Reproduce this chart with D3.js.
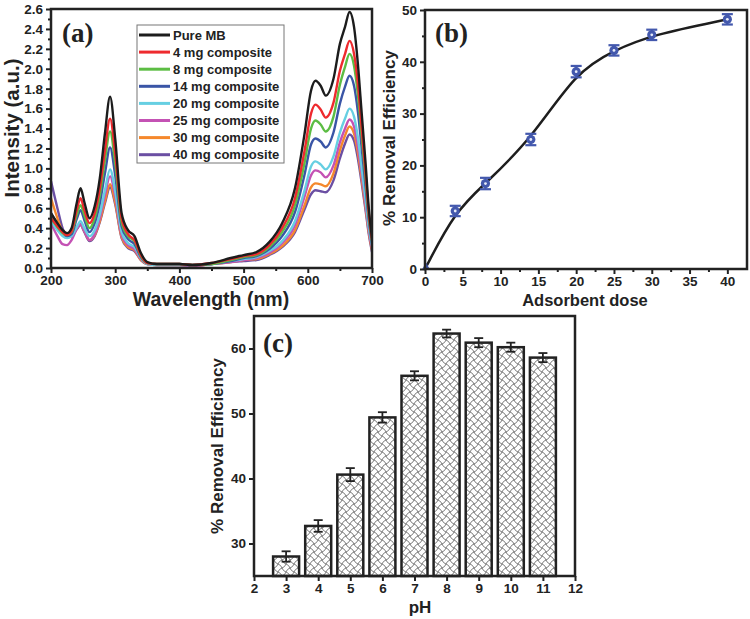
<!DOCTYPE html>
<html>
<head>
<meta charset="utf-8">
<script src="https://cdn.jsdelivr.net/npm/d3@7"></script>
<style>
  body { margin: 0; background: #fff; }
  text { font-family: 'Liberation Sans', Arial, sans-serif; font-weight: bold; fill: #222; }
  .panel-label { font-family: 'Liberation Serif', 'Times New Roman', serif; font-size: 27px; }
</style>
</head>
<body>
<div id="chart"></div>
<script>
// ---- data: panel (a) UV-vis spectra ----
const wavelengths = [200, 210, 218, 225, 232, 240, 246, 252, 260, 268, 276, 284, 292, 300, 310, 320, 330, 340, 350, 365, 400, 420, 450, 480, 500, 520, 540, 560, 580, 595, 605, 612, 620, 628, 640, 650, 658, 665, 672, 678, 684, 690, 695, 700]
const pureMB = [0.55, 0.45, 0.38, 0.35, 0.40, 0.65, 0.80, 0.66, 0.50, 0.62, 0.90, 1.35, 1.72, 1.30, 0.55, 0.38, 0.32, 0.15, 0.06, 0.04, 0.04, 0.03, 0.05, 0.10, 0.13, 0.16, 0.26, 0.45, 0.80, 1.35, 1.78, 1.88, 1.83, 1.73, 1.90, 2.25, 2.42, 2.57, 2.42, 2.05, 1.55, 1.05, 0.60, 0.30]
const mg4 = [0.50, 0.42, 0.36, 0.33, 0.37, 0.58, 0.70, 0.58, 0.45, 0.55, 0.80, 1.18, 1.50, 1.15, 0.50, 0.34, 0.28, 0.13, 0.05, 0.04, 0.04, 0.03, 0.05, 0.09, 0.12, 0.14, 0.23, 0.40, 0.70, 1.18, 1.55, 1.64, 1.59, 1.51, 1.66, 1.98, 2.15, 2.28, 2.15, 1.85, 1.40, 0.95, 0.55, 0.28]
const mg8 = [0.50, 0.41, 0.35, 0.33, 0.36, 0.53, 0.63, 0.53, 0.40, 0.50, 0.73, 1.08, 1.37, 1.05, 0.46, 0.32, 0.27, 0.12, 0.05, 0.04, 0.04, 0.03, 0.04, 0.08, 0.11, 0.13, 0.21, 0.36, 0.63, 1.06, 1.40, 1.48, 1.44, 1.37, 1.52, 1.84, 2.02, 2.15, 2.03, 1.74, 1.32, 0.90, 0.52, 0.27]
const mg14 = [0.55, 0.44, 0.36, 0.32, 0.34, 0.49, 0.58, 0.48, 0.36, 0.45, 0.65, 0.95, 1.21, 0.93, 0.42, 0.29, 0.24, 0.11, 0.05, 0.04, 0.04, 0.03, 0.04, 0.07, 0.10, 0.12, 0.19, 0.32, 0.56, 0.94, 1.24, 1.30, 1.27, 1.21, 1.36, 1.65, 1.82, 1.93, 1.83, 1.57, 1.20, 0.82, 0.48, 0.25]
const mg20 = [0.47, 0.38, 0.32, 0.30, 0.32, 0.41, 0.47, 0.40, 0.32, 0.38, 0.54, 0.78, 0.99, 0.77, 0.36, 0.25, 0.21, 0.10, 0.04, 0.03, 0.03, 0.03, 0.04, 0.07, 0.09, 0.11, 0.17, 0.27, 0.47, 0.78, 1.02, 1.07, 1.04, 0.99, 1.12, 1.36, 1.50, 1.60, 1.52, 1.31, 1.00, 0.69, 0.41, 0.22]
const mg25 = [0.45, 0.32, 0.24, 0.23, 0.28, 0.39, 0.44, 0.37, 0.28, 0.34, 0.50, 0.73, 0.92, 0.72, 0.33, 0.23, 0.19, 0.09, 0.04, 0.03, 0.03, 0.02, 0.04, 0.06, 0.08, 0.10, 0.15, 0.25, 0.43, 0.72, 0.93, 0.98, 0.96, 0.91, 1.03, 1.26, 1.40, 1.49, 1.42, 1.22, 0.94, 0.64, 0.38, 0.20]
const mg30 = [0.70, 0.50, 0.36, 0.31, 0.32, 0.40, 0.44, 0.37, 0.28, 0.33, 0.47, 0.67, 0.84, 0.66, 0.31, 0.21, 0.18, 0.08, 0.04, 0.03, 0.03, 0.02, 0.04, 0.06, 0.08, 0.09, 0.14, 0.22, 0.38, 0.63, 0.81, 0.85, 0.84, 0.82, 0.95, 1.18, 1.33, 1.42, 1.35, 1.16, 0.89, 0.61, 0.36, 0.18]
const mg40 = [0.87, 0.60, 0.40, 0.32, 0.32, 0.39, 0.43, 0.36, 0.27, 0.32, 0.46, 0.65, 0.81, 0.64, 0.30, 0.20, 0.17, 0.08, 0.04, 0.03, 0.03, 0.02, 0.04, 0.06, 0.07, 0.08, 0.13, 0.21, 0.36, 0.59, 0.74, 0.78, 0.77, 0.76, 0.88, 1.10, 1.25, 1.34, 1.28, 1.10, 0.85, 0.58, 0.34, 0.16]
const spectraNames = ['Pure MB', '4 mg composite', '8 mg composite', '14 mg composite', '20 mg composite', '25 mg composite', '30 mg composite', '40 mg composite']
const spectraValues = [pureMB, mg4, mg8, mg14, mg20, mg25, mg30, mg40]
const spectraColors = ['#1c1c1c', '#ee2a2e', '#5cbd44', '#3a55a6', '#66cfe2', '#c452b4', '#f5882c', '#6b4fa3']

// ---- data: panel (b) adsorbent dose ----
const doses = [0, 4, 8, 14, 20, 25, 30, 40]
const doseRemoval = [0, 11.2, 16.5, 25.0, 38.1, 42.2, 45.2, 48.2]
const doseError = [0, 1.0, 1.1, 1.1, 1.1, 1.0, 1.0, 1.0]

// ---- data: panel (c) pH ----
const pHValues = [3, 4, 5, 6, 7, 8, 9, 10, 11]
const pHRemoval = [28.0, 32.7, 40.6, 49.4, 55.8, 62.3, 60.9, 60.2, 58.6]
const pHError = [0.8, 0.9, 1.0, 0.8, 0.7, 0.6, 0.7, 0.7, 0.7]

const svg = d3.select('#chart').append('svg')
  .attr('width', 750)
  .attr('height', 619)
  .style('background', '#fff')

const defs = svg.append('defs')
// wavy cross-hatch used by the pH bars
const hatch = defs.append('pattern')
  .attr('id', 'hatch')
  .attr('patternUnits', 'userSpaceOnUse')
  .attr('width', 8).attr('height', 8)
hatch.append('rect').attr('width', 8).attr('height', 8).attr('fill', '#fff')
hatch.append('path')
  .attr('d', 'M0,0 Q3,1 4,4 T8,8 M0,8 Q1,5 4,4 T8,0')
  .attr('fill', 'none').attr('stroke', '#7a7a7a').attr('stroke-width', 1)

const axisColor = '#222'

// draws frame + major/minor axes on a panel group
function styleAxes(g, w, h, x, y, xTicks, yTicks, xMinor, yMinor, fmtY) {
  g.append('g').attr('transform', `translate(0,${h})`)
    .call(d3.axisBottom(x).tickValues(xTicks).tickSize(5).tickSizeOuter(0).tickPadding(2))
  g.append('g')
    .call(d3.axisLeft(y).tickValues(yTicks).tickSize(5).tickSizeOuter(0).tickPadding(3).tickFormat(fmtY))
  if (xMinor) g.append('g').attr('transform', `translate(0,${h})`)
    .call(d3.axisBottom(x).tickValues(xMinor).tickSize(3).tickFormat(''))
  if (yMinor) g.append('g')
    .call(d3.axisLeft(y).tickValues(yMinor).tickSize(3).tickFormat(''))
  g.selectAll('.domain').remove()
  g.selectAll('.tick line').attr('stroke', axisColor).attr('stroke-width', 2)
  g.selectAll('.tick text').attr('font-size', 13.5).attr('fill', axisColor)
  g.append('rect')
    .attr('width', w).attr('height', h)
    .attr('fill', 'none').attr('stroke', axisColor).attr('stroke-width', 2.5)
}

// ---------- panel (a) ----------
{
  const w = 321, h = 259
  const g = svg.append('g').attr('transform', 'translate(51,9)')
  const x = d3.scaleLinear().domain([200, 700]).range([0, w])
  const y = d3.scaleLinear().domain([0, 2.6]).range([h, 0])

  defs.append('clipPath').attr('id', 'clipA').append('rect').attr('width', w).attr('height', h)

  const line = d3.line()
    .x((d, i) => x(wavelengths[i]))
    .y(d => y(d))
    .curve(d3.curveMonotoneX)

  g.append('g').attr('clip-path', 'url(#clipA)')
    .selectAll('path')
    .data(spectraValues.slice().reverse())
    .join('path')
    .attr('d', line)
    .attr('fill', 'none')
    .attr('stroke', (d, i) => spectraColors[spectraColors.length - 1 - i])
    .attr('stroke-width', 2.4)

  styleAxes(g, w, h, x, y,
    d3.range(200, 701, 100), d3.range(0, 2.61, 0.2).map(v => +v.toFixed(1)),
    d3.range(250, 700, 100), d3.range(0.1, 2.6, 0.2).map(v => +v.toFixed(1)),
    d3.format('.1f'))

  // legend
  const lg = g.append('g').attr('transform', 'translate(86,16)')
  lg.append('rect').attr('width', 147).attr('height', 138)
    .attr('fill', '#fff').attr('stroke', '#777').attr('stroke-width', 1)
  spectraNames.forEach((name, i) => {
    const yy = 10 + i * 17.1
    lg.append('line').attr('x1', 2).attr('x2', 33).attr('y1', yy).attr('y2', yy)
      .attr('stroke', spectraColors[i]).attr('stroke-width', 3)
    lg.append('text').attr('x', 36).attr('y', yy + 4.5).attr('font-size', 13).text(name)
  })

  g.append('text').attr('class', 'panel-label').attr('x', 11).attr('y', 33).text('(a)')
  g.append('text').attr('x', 160).attr('y', 297).attr('font-size', 19.5)
    .attr('text-anchor', 'middle').text('Wavelength (nm)')
  g.append('text').attr('transform', 'translate(-32,119) rotate(-90)')
    .attr('font-size', 20.5).attr('text-anchor', 'middle').text('Intensity (a.u.)')
}

// ---------- panel (b) ----------
{
  const w = 322, h = 259
  const g = svg.append('g').attr('transform', 'translate(425,10)')
  const x = d3.scaleLinear().domain([0, 42.6]).range([0, w])
  const y = d3.scaleLinear().domain([0, 50]).range([h, 0])
  const blue = '#4358ad'

  const pts = doses.map((d, i) => ({ x: d, y: doseRemoval[i], e: doseError[i] }))

  g.append('path')
    .datum(pts)
    .attr('d', d3.line().x(d => x(d.x)).y(d => y(d.y)).curve(d3.curveBasis))
    .attr('fill', 'none').attr('stroke', '#1e1e1e').attr('stroke-width', 2.5)

  const eb = g.append('g').selectAll('g').data(pts.slice(1)).join('g')
  eb.append('line')
    .attr('x1', d => x(d.x)).attr('x2', d => x(d.x))
    .attr('y1', d => y(d.y - d.e)).attr('y2', d => y(d.y + d.e))
    .attr('stroke', blue).attr('stroke-width', 2)
  eb.selectAll('.cap').data(d => [d.y - d.e, d.y + d.e].map(v => ({ x: d.x, v })))
    .join('line')
    .attr('x1', d => x(d.x) - 5.5).attr('x2', d => x(d.x) + 5.5)
    .attr('y1', d => y(d.v)).attr('y2', d => y(d.v))
    .attr('stroke', blue).attr('stroke-width', 2.2)
  eb.append('circle')
    .attr('cx', d => x(d.x)).attr('cy', d => y(d.y)).attr('r', 4.6)
    .attr('fill', blue)
  eb.append('circle')
    .attr('cx', d => x(d.x)).attr('cy', d => y(d.y)).attr('r', 1.4)
    .attr('fill', '#e8ecf8')
  g.append('path')
    .attr('d', d3.symbol(d3.symbolTriangle, 26)())
    .attr('transform', `translate(${x(doses[0]) + 1},${y(doseRemoval[0]) - 2})`)
    .attr('fill', blue)

  styleAxes(g, w, h, x, y,
    d3.range(0, 41, 5), d3.range(0, 51, 10),
    d3.range(2.5, 42, 5), d3.range(5, 50, 10),
    d3.format('d'))

  g.append('text').attr('class', 'panel-label').attr('x', 10).attr('y', 32).text('(b)')
  g.append('text').attr('x', 160).attr('y', 296).attr('font-size', 16.5)
    .attr('text-anchor', 'middle').text('Adsorbent dose')
  g.append('text').attr('transform', 'translate(-30,128) rotate(-90)')
    .attr('font-size', 17).attr('text-anchor', 'middle').text('% Removal Efficiency')
}

// ---------- panel (c) ----------
{
  const w = 321, h = 260
  const g = svg.append('g').attr('transform', 'translate(254,316)')
  const x = d3.scaleLinear().domain([2, 12]).range([0, w])
  const y = d3.scaleLinear().domain([25, 65]).range([h, 0])
  const barW = 26

  g.append('g').selectAll('rect').data(pHValues).join('rect')
    .attr('x', d => x(d) - barW / 2)
    .attr('width', barW)
    .attr('y', (d, i) => y(pHRemoval[i]))
    .attr('height', (d, i) => h - y(pHRemoval[i]))
    .attr('fill', 'url(#hatch)')
    .attr('stroke', '#222').attr('stroke-width', 2.5)

  const eb = g.append('g').selectAll('g').data(pHValues).join('g')
  eb.append('line')
    .attr('x1', d => x(d)).attr('x2', d => x(d))
    .attr('y1', (d, i) => y(pHRemoval[i] - pHError[i]))
    .attr('y2', (d, i) => y(pHRemoval[i] + pHError[i]))
    .attr('stroke', '#222').attr('stroke-width', 1.8)
  ;[-1, 1].forEach(s => {
    eb.append('line')
      .attr('x1', d => x(d) - 4.5).attr('x2', d => x(d) + 4.5)
      .attr('y1', (d, i) => y(pHRemoval[i] + s * pHError[i]))
      .attr('y2', (d, i) => y(pHRemoval[i] + s * pHError[i]))
      .attr('stroke', '#222').attr('stroke-width', 1.8)
  })

  styleAxes(g, w, h, x, y,
    d3.range(2, 13, 1), [30, 40, 50, 60],
    null, null, d3.format('d'))

  g.append('text').attr('class', 'panel-label').attr('x', 9).attr('y', 36).text('(c)')
  g.append('text').attr('x', 166).attr('y', 297).attr('font-size', 17)
    .attr('text-anchor', 'middle').text('pH')
  g.append('text').attr('transform', 'translate(-31,130) rotate(-90)')
    .attr('font-size', 17).attr('text-anchor', 'middle').text('% Removal Efficiency')
}
</script>
</body>
</html>
